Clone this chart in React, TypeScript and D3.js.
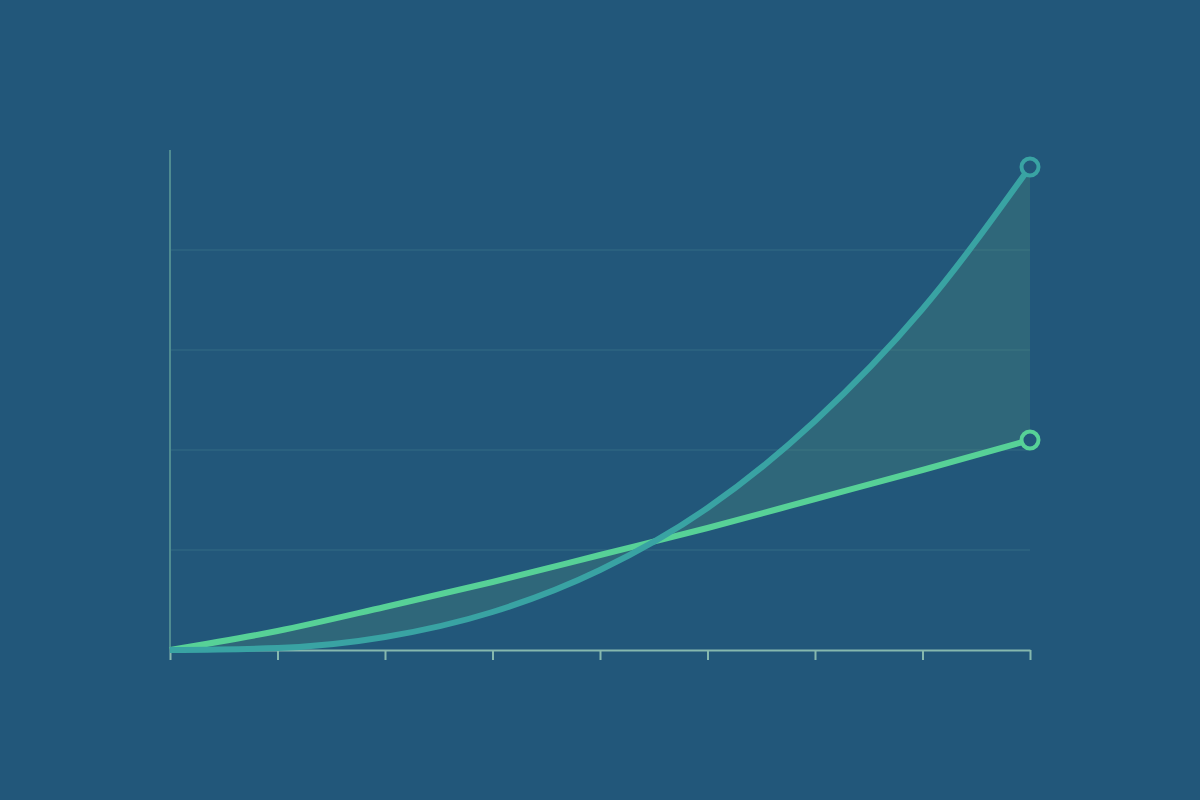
import { useRef, useEffect } from "react";
import * as d3 from "d3";

const steps = [0, 1, 2, 3, 4, 5, 6, 7, 8];
const greenValues = [0, 0.19, 0.43, 0.68, 0.95, 1.22, 1.51, 1.8, 2.1];
const tealValues = [0, 0.02, 0.13, 0.38, 0.8, 1.42, 2.29, 3.41, 4.83];
const gridValues = [1, 2, 3, 4];

const BG = "#22577a";
const GREEN = "#57d197";
const TEAL = "#39a3a3";

export default function App() {
  const ref = useRef<SVGSVGElement>(null);

  useEffect(() => {
    document.body.style.margin = "0";
    if (!ref.current) return;
    const svg = d3.select(ref.current); svg.selectAll("*").remove();
    const x = d3.scaleLinear().domain([0, 8]).range([170, 1030]);
    const y = d3.scaleLinear().domain([0, 5]).range([650, 150]);
    const rows = steps.map((s, i) => ({ s, g: greenValues[i], t: tealValues[i] }));
    type Row = typeof rows[number];

    svg.append("rect").attr("width", 1200).attr("height", 800).attr("fill", BG);

    svg.selectAll(".grid").data(gridValues).join("line")
      .attr("x1", x(0)).attr("x2", x(8)).attr("y1", d => y(d)).attr("y2", d => y(d))
      .attr("stroke", "#2e6582").attr("stroke-width", 1.5);

    const band = d3.area<Row>().x(d => x(d.s)).y0(d => y(d.g)).y1(d => y(d.t)).curve(d3.curveMonotoneX);
    svg.append("path").datum(rows).attr("fill", "#4f907a").attr("fill-opacity", 0.3).attr("d", band);

    // left axis
    svg.append("line").attr("x1", x(0)).attr("x2", x(0)).attr("y1", y(5)).attr("y2", y(0))
      .attr("stroke", "#4f8b91").attr("stroke-width", 2);

    // bottom axis
    const xAxis = svg.append("g").attr("transform", `translate(0,${y(0)})`)
      .call(d3.axisBottom(x).tickValues(steps).tickSize(10).tickSizeOuter(0).tickFormat(() => ""));
    xAxis.select(".domain").attr("stroke", "#86b8ae").attr("stroke-width", 2);
    xAxis.selectAll(".tick line").attr("stroke", "#86b8ae").attr("stroke-width", 2);

    const gLine = d3.line<Row>().x(d => x(d.s)).y(d => y(d.g)).curve(d3.curveMonotoneX);
    const tLine = d3.line<Row>().x(d => x(d.s)).y(d => y(d.t)).curve(d3.curveMonotoneX);
    svg.append("path").datum(rows).attr("fill", "none").attr("stroke", GREEN).attr("stroke-width", 6).attr("d", gLine);
    svg.append("path").datum(rows).attr("fill", "none").attr("stroke", TEAL).attr("stroke-width", 6).attr("d", tLine);

    const last = rows[rows.length - 1];
    svg.append("circle").attr("cx", x(last.s)).attr("cy", y(last.g)).attr("r", 8.5)
      .attr("fill", BG).attr("stroke", GREEN).attr("stroke-width", 4);
    svg.append("circle").attr("cx", x(last.s)).attr("cy", y(last.t)).attr("r", 8.5)
      .attr("fill", BG).attr("stroke", TEAL).attr("stroke-width", 4);
  }, []);

  return (
    <div style={{ position: "absolute", left: 0, top: 0, width: 1200, height: 800, background: BG }}>
      <svg ref={ref} width={1200} height={800} style={{ display: "block" }} />
    </div>
  );
}
